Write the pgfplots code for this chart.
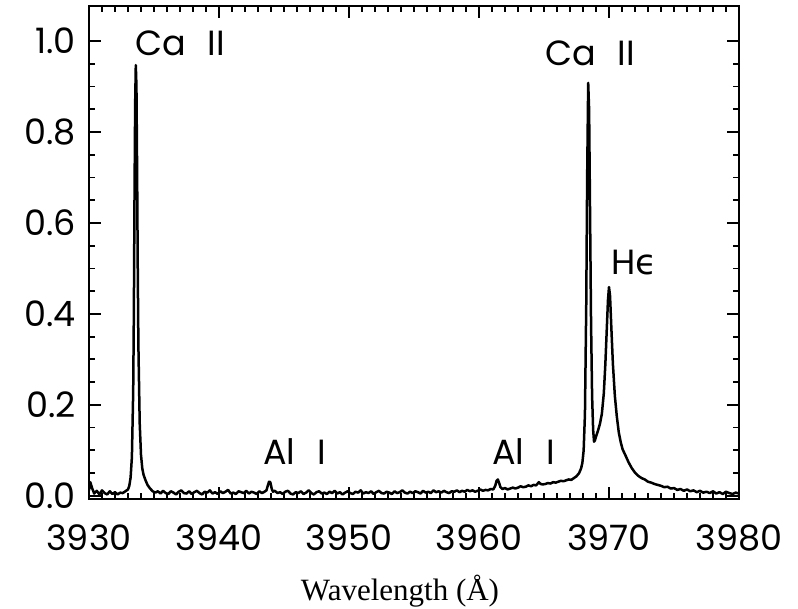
\documentclass[border=0pt]{standalone}
\usepackage{pgfplots}
\pgfplotsset{compat=1.18}
\usepackage{fontspec}
\setmainfont{Poppins}
\newfontfamily\serif{Liberation Serif}
\newfontfamily\dejavu{DejaVu Sans}
\begin{document}
\begin{tikzpicture}
\begin{axis}[
  scale only axis,
  width=650pt, height=493pt,
  xmin=3930, xmax=3980,
  ymin=-0.007, ymax=1.077,
  xtick={3930,3940,...,3980},
  ytick={0,0.2,0.4,0.6,0.8,1.0},
  minor x tick num=9,
  minor y tick num=3,
  tick align=inside,
  major tick length=12pt,
  minor tick length=6pt,
  every tick/.style={line width=1.8pt, black},
  axis line style={line width=2pt},
  tick label style={font=\fontsize{35}{35}\selectfont},
  /pgf/number format/assume math mode=true,
  xticklabel style={/pgf/number format/set thousands separator={}, anchor=base, inner sep=0pt, yshift=-51pt},
  yticklabel style={/pgf/number format/fixed, /pgf/number format/fixed zerofill, /pgf/number format/precision=1, anchor=east, inner sep=0pt, xshift=-13pt},
  xlabel={\serif Wavelength (Å)},
  xlabel style={font=\fontsize{31}{31}\selectfont, at={(axis description cs:0.4785,0)}, anchor=base, inner sep=0pt, yshift=-101pt},
  clip=true,
]
\addplot[black, line width=2.5pt, line join=round] table {
3930.00 0.012
3930.10 0.030
3930.25 0.016
3930.40 0.005
3930.60 0.011
3930.80 0.003
3931.00 0.012
3931.20 0.006
3931.40 0.003
3931.60 0.010
3931.80 0.004
3932.00 0.008
3932.20 0.003
3932.40 0.007
3932.60 0.006
3932.80 0.010
3933.00 0.014
3933.10 0.022
3933.20 0.040
3933.30 0.085
3933.40 0.230
3933.45 0.400
3933.50 0.650
3933.55 0.860
3933.60 0.947
3933.65 0.900
3933.70 0.720
3933.75 0.500
3933.80 0.330
3933.90 0.160
3934.00 0.090
3934.10 0.060
3934.20 0.046
3934.35 0.034
3934.50 0.024
3934.70 0.016
3934.90 0.010
3935.10 0.007
3935.3 0.010
3935.5 0.005
3935.7 0.011
3935.9 0.006
3936.1 0.004
3936.3 0.010
3936.5 0.007
3936.7 0.003
3936.9 0.009
3937.1 0.012
3937.3 0.006
3937.5 0.005
3937.7 0.010
3937.9 0.004
3938.1 0.008
3938.3 0.011
3938.5 0.006
3938.7 0.003
3938.9 0.009
3939.1 0.007
3939.3 0.012
3939.5 0.005
3939.7 0.008
3939.9 0.004
3940.1 0.010
3940.3 0.006
3940.5 0.009
3940.7 0.013
3940.9 0.005
3941.1 0.007
3941.3 0.004
3941.5 0.010
3941.7 0.008
3941.9 0.006
3942.1 0.011
3942.3 0.005
3942.5 0.009
3942.7 0.007
3942.9 0.004
3943.1 0.010
3943.3 0.006
3943.5 0.009
3943.65 0.012
3943.75 0.022
3943.85 0.031
3943.95 0.030
3944.05 0.016
3944.15 0.009
3944.3 0.011
3944.5 0.006
3944.7 0.008
3944.9 0.004
3945.1 0.009
3945.3 0.011
3945.5 0.005
3945.7 0.003
3945.9 0.008
3946.1 0.006
3946.3 0.010
3946.5 0.004
3946.7 0.007
3946.9 0.012
3947.1 0.006
3947.3 0.003
3947.5 0.008
3947.7 0.010
3947.9 0.005
3948.1 0.007
3948.3 0.004
3948.5 0.009
3948.7 0.006
3948.9 0.011
3949.1 0.005
3949.3 0.008
3949.5 0.003
3949.7 0.007
3949.9 0.010
3950.1 0.006
3950.3 0.004
3950.5 0.009
3950.7 0.007
3950.9 0.012
3951.1 0.005
3951.3 0.008
3951.5 0.006
3951.7 0.010
3951.9 0.004
3952.1 0.008
3952.3 0.011
3952.5 0.006
3952.7 0.005
3952.9 0.009
3953.1 0.007
3953.3 0.004
3953.5 0.010
3953.7 0.006
3953.9 0.008
3954.1 0.012
3954.3 0.007
3954.5 0.005
3954.7 0.009
3954.9 0.006
3955.1 0.010
3955.3 0.008
3955.5 0.005
3955.7 0.011
3955.9 0.007
3956.1 0.009
3956.3 0.006
3956.5 0.012
3956.7 0.008
3956.9 0.010
3957.1 0.007
3957.3 0.011
3957.5 0.008
3957.7 0.006
3957.9 0.010
3958.1 0.009
3958.3 0.012
3958.5 0.008
3958.7 0.011
3958.9 0.009
3959.1 0.013
3959.3 0.010
3959.5 0.012
3959.7 0.009
3959.9 0.011
3960.1 0.014
3960.3 0.011
3960.5 0.013
3960.7 0.012
3960.9 0.015
3961.1 0.014
3961.25 0.022
3961.35 0.033
3961.45 0.036
3961.55 0.028
3961.65 0.019
3961.8 0.015
3962.0 0.017
3962.2 0.014
3962.4 0.016
3962.6 0.018
3962.8 0.016
3963.0 0.018
3963.2 0.021
3963.4 0.019
3963.6 0.020
3963.8 0.023
3964.0 0.021
3964.2 0.024
3964.4 0.023
3964.6 0.030
3964.75 0.026
3964.9 0.025
3965.1 0.026
3965.3 0.028
3965.5 0.027
3965.7 0.030
3965.9 0.029
3966.1 0.031
3966.3 0.033
3966.5 0.032
3966.7 0.034
3966.9 0.036
3967.1 0.035
3967.3 0.039
3967.5 0.043
3967.7 0.050
3967.85 0.060
3967.95 0.072
3968.05 0.100
3968.15 0.180
3968.25 0.420
3968.32 0.700
3968.40 0.908
3968.47 0.850
3968.55 0.600
3968.62 0.380
3968.70 0.220
3968.78 0.145
3968.85 0.119
3968.92 0.122
3969.00 0.130
3969.15 0.143
3969.30 0.158
3969.45 0.180
3969.60 0.225
3969.72 0.290
3969.82 0.360
3969.92 0.430
3970.00 0.459
3970.08 0.440
3970.18 0.370
3970.30 0.290
3970.45 0.220
3970.60 0.175
3970.75 0.140
3970.90 0.118
3971.05 0.102
3971.25 0.090
3971.50 0.074
3971.75 0.061
3972.00 0.051
3972.25 0.044
3972.50 0.039
3972.75 0.036
3973.0 0.031
3973.25 0.029
3973.5 0.026
3973.75 0.024
3974.0 0.022
3974.25 0.019
3974.5 0.020
3974.75 0.016
3975.0 0.017
3975.25 0.013
3975.5 0.015
3975.75 0.011
3976.0 0.014
3976.25 0.010
3976.5 0.012
3976.75 0.008
3977.0 0.011
3977.25 0.007
3977.5 0.009
3977.75 0.006
3978.0 0.010
3978.25 0.005
3978.5 0.008
3978.75 0.004
3979.0 0.009
3979.25 0.006
3979.5 0.004
3979.75 0.007
3980.0 0.005
};
\node[anchor=west, inner sep=0pt, font=\fontsize{35}{35}\selectfont] at (axis cs:3933.54,0.996) {Ca\hspace{22pt}II};
\node[anchor=west, inner sep=0pt, font=\fontsize{35}{35}\selectfont] at (axis cs:3965.08,0.974) {Ca\hspace{22pt}II};
\node[anchor=west, inner sep=0pt, font=\fontsize{35}{35}\selectfont] at (axis cs:3970.15,0.512) {H{\dejavu ϵ}};
\node[anchor=west, inner sep=0pt, font=\fontsize{35}{35}\selectfont] at (axis cs:3943.38,0.097) {Al\hspace{22pt}I};
\node[anchor=west, inner sep=0pt, font=\fontsize{35}{35}\selectfont] at (axis cs:3961.0,0.097) {Al\hspace{22pt}I};
\end{axis}
\pgfresetboundingbox
\path (current axis.south west) ++(-89pt,-109pt) rectangle ++(798pt,608pt);
\end{tikzpicture}
\end{document}
